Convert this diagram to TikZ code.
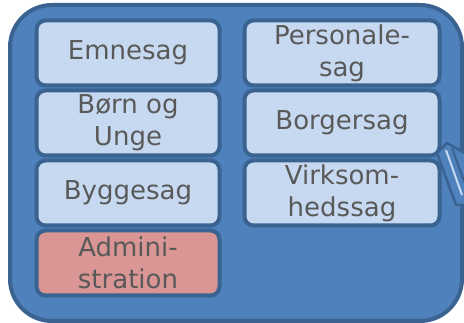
\documentclass[tikz,border=0pt]{standalone}
\usepackage{fontspec}
\setmainfont{DejaVu Sans}
\usepackage{tikz}
\usetikzlibrary{shapes,backgrounds,positioning,fit}

\definecolor{OuterBlue}{HTML}{4F81BD}
\definecolor{EdgeBlue}{HTML}{3A6391}
\definecolor{PaleBlue}{HTML}{C6D9F1}
\definecolor{PaleRed}{HTML}{D99694}
\definecolor{TextGray}{HTML}{595959}

\begin{document}
\begin{tikzpicture}[x=1pt, y=-1pt]
			\tikzstyle{Outer}	= [fill=OuterBlue, draw=EdgeBlue, line width=4pt, rounded corners=42pt]
			\tikzstyle{Case}	= [rectangle, draw=EdgeBlue, line width=4pt, rounded corners=9pt, fill=PaleBlue, text=TextGray, font=\fontsize{26}{32}\selectfont, align=center, inner sep=0pt, minimum height=65pt]
			\tikzstyle{Left}	= [minimum width=183pt]
			\tikzstyle{Right}	= [minimum width=195pt]
			\tikzstyle{Admin}	= [fill=PaleRed]
			\tikzstyle{Frag}	= [draw=EdgeBlue, line width=2.5pt, fill=OuterBlue, line join=round]
			\tikzstyle{Stripe}	= [draw=PaleBlue, line width=2pt]

			\useasboundingbox (0,0) rectangle (464,323);
			\begin{scope}
				\clip (0,0) rectangle (464,323);
				\draw [Outer] (10,5) rectangle (462,321);

				\node (c0) at (128,53) [Case][Left] {Emnesag};
				\node (c1) at (128,123) [Case][Left] {Børn og\\Unge};
				\node (c2) at (128,193) [Case][Left] {Byggesag};
				\node (c3) at (128,263) [Case][Left][Admin] {Admini-\\stration};

				\node (c4) at (342,53) [Case][Right] {Personale-\\sag};
				\node (c5) at (342,123) [Case][Right] {Borgersag};
				\node (c6) at (342,193) [Case][Right] {Virksom-\\hedssag};

				% cut-off piece at the right edge
				\draw [Frag] (437,153) -- (447,143) -- (470,156) -- (470,205) -- (456,205) -- cycle;
				\draw [Stripe] (446,150) -- (462,195);
				\draw [EdgeBlue, line width=2pt] (452,148) -- (468,192);
			\end{scope}
		\end{tikzpicture}
\end{document}
